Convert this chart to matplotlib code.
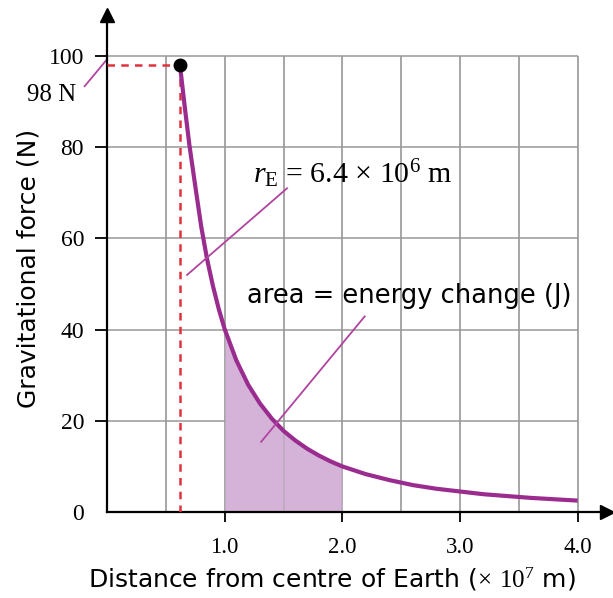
import matplotlib
matplotlib.use("Agg")
import matplotlib.pyplot as plt
import numpy as np

plt.rcParams['mathtext.fontset'] = 'custom'
plt.rcParams['mathtext.rm'] = 'Liberation Serif'
plt.rcParams['mathtext.it'] = 'Liberation Serif:italic'

# force (distance in 1e7 m, force in N)
r = [0.62, 0.66, 0.7, 0.75, 0.8, 0.85, 0.9, 0.95, 1.0, 1.1, 1.2, 1.3, 1.4, 1.5, 1.6,
     1.7, 1.8, 1.9, 2.0, 2.2, 2.4, 2.6, 2.8, 3.0, 3.2, 3.4, 3.6, 3.8, 4.0]
force = [98, 89, 80.5, 71.5, 62.7, 55.5, 49.6, 44.5, 40.1, 33.2, 27.9, 23.8, 20.5,
         17.8, 15.7, 13.9, 12.4, 11.1, 10.0, 8.3, 7.0, 5.9, 5.1, 4.5, 3.9, 3.5, 3.1, 2.8, 2.5]
area_from, area_to = 1.0, 2.0
r_earth, f_surface = 0.62, 98

grid_x = [0.5, 1.0, 1.5, 2.0, 2.5, 3.0, 3.5, 4.0]
grid_y = [20, 40, 60, 80, 100]
xticks = [1, 2, 3, 4]
xlabels = ["1.0", "2.0", "3.0", "4.0"]
yticks = [0, 20, 40, 60, 80, 100]

purple = "#9a2b8f"
pink = "#b0449f"
red = "#e0323c"
sans = "DejaVu Sans"
serif = "Liberation Serif"

fig = plt.figure(figsize=(6.13, 5.98), dpi=100)
ax = fig.add_axes([0.1746, 0.1438, 0.8157, 0.831])
ax.set_xlim(0, 4.25)
ax.set_ylim(0, 109)

ax.vlines(grid_x, 0, 100, color="#999999", lw=1.1, zorder=1)
ax.hlines(grid_y, 0, 4.0, color="#999999", lw=1.1, zorder=1)

ra = np.array(r)
fa = np.array(force)
m = (ra >= area_from) & (ra <= area_to)
ax.fill_between(ra[m], 0, fa[m], color="#d5b3d9", lw=0, zorder=2)
ax.vlines(grid_x, 0, 100, color="#999999", lw=1.1, zorder=2.1, alpha=0.45)

ax.plot(r, force, color=purple, lw=3, zorder=4, solid_capstyle="butt")
ax.plot([0, r_earth], [f_surface, f_surface], color=red, ls=(0, (3, 2.5)), lw=1.8, zorder=3)
ax.plot([r_earth, r_earth], [f_surface, 0], color=red, ls=(0, (3, 2.5)), lw=1.8, zorder=3)
ax.plot(r_earth, f_surface, "o", color="black", ms=9, zorder=5)

for s in ["top", "right"]:
    ax.spines[s].set_visible(False)
for s in ["left", "bottom"]:
    ax.spines[s].set_linewidth(1.6)
ax.plot(1, 0, ">k", ms=10, transform=ax.transAxes, clip_on=False)
ax.plot(0, 1, "^k", ms=10, transform=ax.transAxes, clip_on=False)

ax.set_xticks(xticks)
ax.set_yticks(yticks)
ax.tick_params(direction="out", width=1.3)
ax.tick_params(axis="x", length=7, pad=11)
ax.tick_params(axis="y", length=8.5, pad=8)
ax.set_xticklabels(xlabels, fontfamily=serif, fontsize=16.5)
ax.set_yticklabels([str(v) for v in yticks], fontfamily=serif, fontsize=17)
ax.yaxis.get_major_ticks()[0].tick1line.set_visible(False)

ax.set_xlabel(r"Distance from centre of Earth ($\times$ $10^{7}$ m)", fontfamily=sans,
              fontsize=18)
ax.xaxis.set_label_coords(0.449, -0.108)
ax.set_ylabel("Gravitational force (N)", fontfamily=sans, fontsize=18)
ax.yaxis.set_label_coords(-0.134, 0.491)

# annotations
ax.text(-0.26, 91.4, "98 N", fontfamily=serif, fontsize=18, ha="right", va="center")
ax.plot([-0.19, 0], [93.4, 99.3], color=pink, lw=1.3, clip_on=False)
ax.text(1.24, 74.3, r"$r_{\mathrm{E}}$ = 6.4 × 10$^{6}$ m", fontfamily=serif,
        fontsize=21.5, ha="left", va="center")
ax.plot([1.53, 0.68], [71, 52], color=pink, lw=1.3, zorder=6)
ax.text(1.19, 47.3, "area = energy change (J)", fontfamily=sans, fontsize=18.5,
        ha="left", va="center")
ax.plot([2.19, 1.31], [42.9, 15.4], color=pink, lw=1.3, zorder=6)

fig.savefig("out.png", dpi=100)
